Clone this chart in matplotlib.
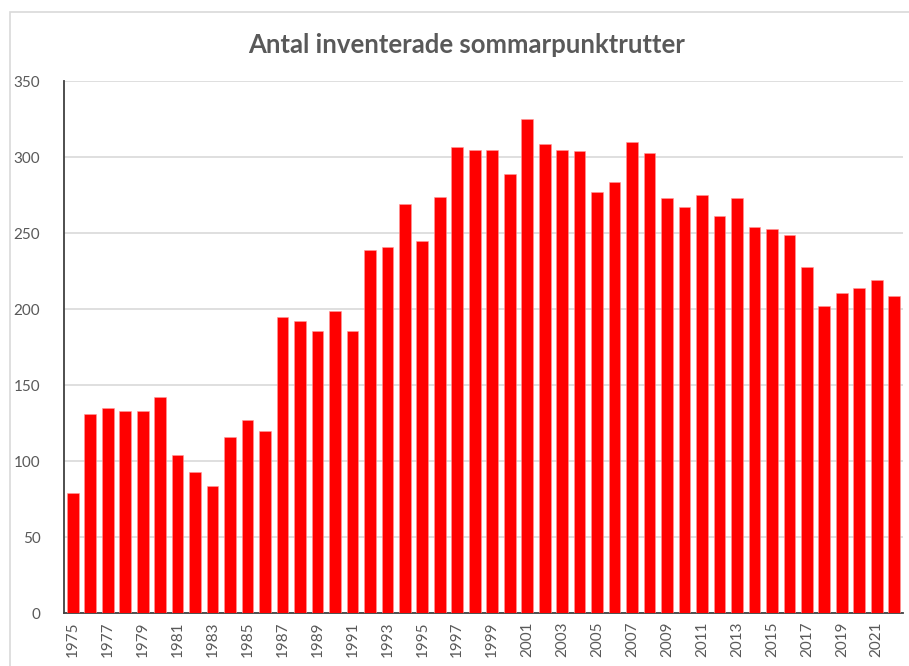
import numpy as np
import matplotlib
matplotlib.use("Agg")
from matplotlib import pyplot as plt
from matplotlib.patches import Rectangle

years = list(range(1975, 2023))
counts = [79, 131, 135, 133, 133, 142, 104, 93, 84, 116, 127, 120,
          195, 192, 186, 199, 186, 239, 241, 269, 245, 274, 307, 305,
          305, 289, 325, 309, 305, 304, 277, 284, 310, 303, 273, 267,
          275, 261, 273, 254, 253, 249, 228, 202, 211, 214, 219, 209]
title = "Antal inventerade sommarpunktrutter"

plt.rcParams['font.family'] = ['Lato', 'DejaVu Sans']
txt_col = '#595959'

fig = plt.figure(figsize=(9.09, 6.66), dpi=100)
ax = fig.add_axes([0.0704, 0.0791, 0.923, 0.799])

x = np.arange(len(years))
ax.bar(x, counts, width=0.67, color='#ff0000', edgecolor='#ff9999', linewidth=0.4, zorder=3)

ax.set_xlim(-0.5, len(years) - 0.5)
ax.set_ylim(0, 350)
ax.set_yticks(np.arange(0, 351, 50))
ax.yaxis.grid(True, color='#d9d9d9', linewidth=1.2, zorder=0)
ax.set_xticks(x[::2])
ax.set_xticklabels([str(y) for y in years[::2]], rotation=90)
ax.tick_params(axis='both', length=0, labelsize=11, colors=txt_col)
ax.tick_params(axis='y', pad=17)
ax.tick_params(axis='x', pad=6)

for s in ['top', 'right']:
    ax.spines[s].set_visible(False)
ax.spines['left'].set_color('#404040')
ax.spines['bottom'].set_color('#404040')
ax.spines['left'].set_linewidth(1.3)
ax.spines['bottom'].set_linewidth(1.3)

fig.text(0.513, 0.932, title, ha='center', va='center', fontsize=18.5,
         fontweight='bold', color=txt_col)

# chart border
fig.patches.append(Rectangle((10 / 909, -0.1), 1.1, 1 - 11.5 / 666 + 0.1,
                             transform=fig.transFigure, fill=False,
                             edgecolor='#d9d9d9', linewidth=1.2))

fig.savefig('out.png', dpi=100)
